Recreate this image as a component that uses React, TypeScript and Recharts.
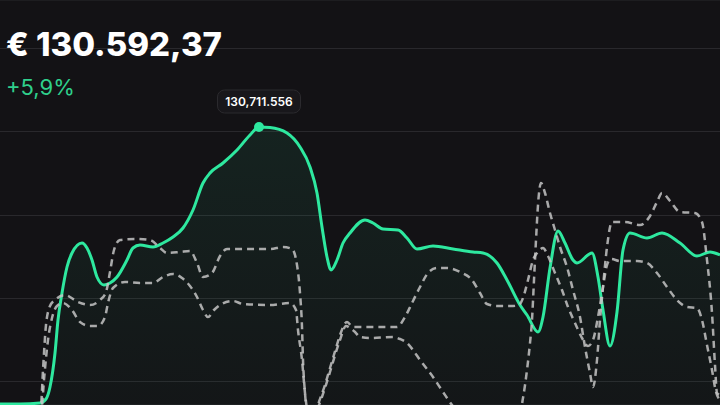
import React from 'react';
import { ComposedChart, Area, Line, XAxis, YAxis, CartesianGrid } from 'recharts';

// Values are heights above the bottom edge of the plot.
const portfolio: [number, number][] = [
  [0, 1], [20, 1], [40, 2], [46, 6], [50, 18], [55, 52], [58, 85], [62, 112], [67, 138], [72, 152],
  [82, 162], [87, 157], [92, 145], [97, 128], [104, 120], [110, 122], [117, 128], [127, 145], [133, 157],
  [140, 160], [153, 158], [163, 162], [173, 168], [183, 177], [193, 195], [203, 222], [210, 232],
  [223, 242], [237, 255], [250, 270], [259, 278], [270, 277.5], [287, 272], [300, 258], [310, 238],
  [317, 212], [322, 178], [327, 148], [331, 135], [337, 145], [343, 162], [350, 172], [365, 185],
  [373, 182], [383, 176], [398, 175], [407, 167], [417, 156], [433, 159], [453, 156], [473, 153],
  [483, 152], [497, 142], [507, 125], [520, 100], [527, 90], [538, 73], [543, 88], [550, 137],
  [558, 174], [565, 162], [573, 145], [577, 142], [592, 152], [598, 128], [603, 95], [610, 59],
  [617, 93], [623, 155], [630, 172], [647, 167], [662, 172], [680, 162], [697, 149], [710, 153], [720, 150],
];

const benchmarkA: [number, number][] = [
  [0, -7], [38, -7], [41, 0], [43, 35], [46, 80], [50, 99], [55, 105], [65, 110], [78, 103], [90, 100],
  [100, 105], [106, 113], [110, 133], [114, 155], [120, 165], [135, 166], [150, 165], [160, 157],
  [167, 152], [180, 153], [190, 154], [197, 142], [203, 128], [212, 132], [220, 149], [227, 156],
  [243, 156], [270, 156], [283, 158], [292, 156], [297, 140], [300, 112], [302, 78], [303, 45],
  [305, 12], [307, -7], [316, -7], [318, 0], [325, 20], [330, 37], [336, 57], [340, 70], [347, 83],
  [353, 78], [373, 78], [397, 78], [405, 88], [412, 102], [420, 118], [428, 132], [437, 137],
  [447, 137], [460, 133], [472, 125], [480, 112], [487, 101], [497, 99], [513, 99], [519, 100],
  [523, 107], [528, 125], [533, 145], [538, 153], [543, 157], [548, 149], [555, 132], [562, 115],
  [568, 98], [575, 82], [582, 67], [588, 59], [593, 65], [598, 88], [603, 118], [607, 140], [611, 146],
  [620, 144], [637, 144], [647, 142], [657, 132], [667, 118], [677, 105], [687, 98], [697, 97],
  [702, 85], [707, 60], [712, 35], [716, 13], [720, 5],
];

const benchmarkB: [number, number][] = [
  [0, -7], [40, -7], [42, 0], [44, 25], [48, 65], [52, 87], [57, 99], [63, 102], [72, 95], [80, 83],
  [90, 79], [98, 79], [105, 88], [108, 102], [113, 117], [125, 123], [140, 122], [153, 122],
  [163, 128], [173, 131], [182, 127], [190, 119], [197, 108], [203, 95], [208, 88], [214, 95],
  [220, 100], [233, 104], [243, 101], [270, 100], [290, 102], [296, 95], [298, 75], [302, 45],
  [305, 12], [308, -7], [316, -7], [319, 0], [325, 17], [330, 33], [336, 53], [340, 65], [346, 79],
  [350, 77], [355, 73], [360, 68], [370, 67], [393, 68], [400, 66], [407, 62], [413, 55], [420, 45],
  [427, 36], [433, 28], [443, 13], [452, 0], [458, -7], [520, -7], [523, 7], [527, 35], [530, 62],
  [532, 85], [534, 125], [536, 165], [538, 200], [541, 222], [545, 212], [550, 192], [555, 175],
  [560, 158], [567, 138], [573, 115], [580, 88], [585, 58], [590, 32], [593, 18], [597, 45],
  [600, 85], [603, 118], [607, 158], [612, 183], [625, 183], [640, 180], [650, 189], [657, 203],
  [662, 212], [670, 204], [680, 193], [695, 192], [702, 183], [707, 145], [712, 92], [715, 40],
  [717, 12], [720, 10],
];

const gridTicks = [23.5, 106.5, 189.5, 273.5, 356.5];
const titleText = '€ 130.592,37';
const changeText = '+5,9%';
const peakLabel = '130,711.556';

const toRows = (pairs: [number, number][]) => pairs.map(([x, v]) => ({ x, v }));
const portfolioRows = toRows(portfolio);
const aRows = toRows(benchmarkA);
const bRows = toRows(benchmarkB);

let peakIndex = 0;
portfolio.forEach((p, i) => {
  if (p[1] > portfolio[peakIndex][1]) peakIndex = i;
});

const GREEN = '#2ee89f';
const DASH = '#c4c4c4';
const BG = '#131215';
const FONT = "Inter, 'Noto Sans', sans-serif";

const PeakDot = (props: any) => {
  const { cx, cy, index } = props;
  if (index !== peakIndex) return <g key={`d${index}`} />;
  return (
    <g key="peak">
      <rect x={cx - 41.5} y={cy - 37} width={83} height={23} rx={7} fill="#18171b" stroke="#2b2a2e" strokeWidth={1} />
      <text x={cx} y={cy - 21} textAnchor="middle" fill="#ffffff" fontSize={12} fontWeight={600} fontFamily={FONT}>
        {peakLabel}
      </text>
      <circle cx={cx} cy={cy} r={5} fill={GREEN} />
    </g>
  );
};

export default function App() {
  return (
    <div style={{ width: 720, height: 405, position: 'relative', background: BG, overflow: 'hidden' }}>
      <style>{`body{margin:0;background:${BG};}`}</style>
      <ComposedChart width={720} height={405} margin={{ top: 0, right: 0, bottom: 0, left: 0 }}>
        <defs>
          <linearGradient id="pfFill" x1="0" y1="0" x2="0" y2="1">
            <stop offset="0%" stopColor={GREEN} stopOpacity={0.08} />
            <stop offset="100%" stopColor={GREEN} stopOpacity={0.02} />
          </linearGradient>
        </defs>
        <XAxis dataKey="x" type="number" domain={[0, 720]} hide allowDataOverflow />
        <YAxis type="number" domain={[0, 405]} ticks={gridTicks} hide allowDataOverflow />
        <CartesianGrid vertical={false} stroke="#29282c" strokeWidth={1} />
        <Line data={bRows} dataKey="v" type="monotone" stroke={DASH} strokeOpacity={0.85} strokeWidth={2.5} strokeDasharray="7 5" dot={false} isAnimationActive={false} />
        <Line data={aRows} dataKey="v" type="monotone" stroke={DASH} strokeOpacity={0.85} strokeWidth={2.5} strokeDasharray="7 5" dot={false} isAnimationActive={false} />
        <Area data={portfolioRows} dataKey="v" type="monotone" stroke={GREEN} strokeWidth={3} fill="url(#pfFill)" fillOpacity={1} baseValue={0} dot={PeakDot} activeDot={false} isAnimationActive={false} />
      </ComposedChart>
      <svg width={720} height={405} style={{ position: 'absolute', left: 0, top: 0, pointerEvents: 'none' }}>
        <text x={6} y={56} fill="#ffffff" fontSize={33} fontWeight={800} fontFamily={FONT}>
          {titleText}
        </text>
        <text x={6} y={95} fill="#2fd08c" fontSize={22} fontWeight={400} fontFamily={FONT}>
          {changeText}
        </text>
      </svg>
    </div>
  );
}
